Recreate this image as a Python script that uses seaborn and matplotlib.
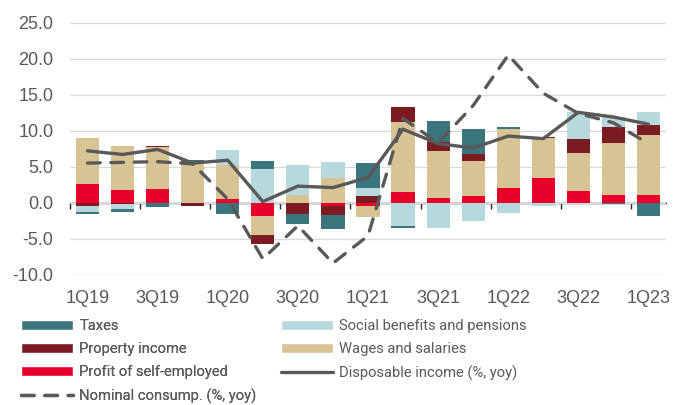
import numpy as np
import pandas as pd
import matplotlib
matplotlib.use("Agg")
import matplotlib.pyplot as plt
from matplotlib.patches import Patch
from matplotlib.lines import Line2D
import seaborn as sns

# ---- data ----
quarters = ['1Q19', '2Q19', '3Q19', '4Q19', '1Q20', '2Q20', '3Q20', '4Q20', '1Q21',
            '2Q21', '3Q21', '4Q21', '1Q22', '2Q22', '3Q22', '4Q22', '1Q23']
profit = [2.6, 1.7, 1.9, 0.0, 0.5, -1.85, 0.0, -0.45, -0.4, 1.55, 0.7, 0.95, 2.1, 3.45, 1.65, 1.1, 1.1]
wages = [6.4, 6.2, 5.8, 5.6, 4.8, -2.65, 1.05, 3.5, -1.6, 9.6, 6.5, 4.85, 8.1, 5.55, 5.3, 7.15, 8.3]
property_inc = [-0.4, -0.15, 0.2, -0.45, 0.0, -1.25, -1.55, -1.25, 1.0, 2.15, 1.25, 0.9, 0.0, 0.15, 1.85, 2.3, 1.4]
social = [-0.95, -0.75, 0.0, 0.0, 2.0, 4.7, 4.15, 2.2, 1.0, -3.25, -3.45, -2.55, -1.45, -0.4, 3.75, 1.3, 1.75]
taxes = [-0.25, -0.45, -0.55, 0.3, -1.5, 1.15, -1.4, -1.95, 3.45, -0.2, 2.9, 3.5, 0.35, 0.0, 0.0, -0.2, -1.8]
disposable = [7.2, 6.7, 7.4, 5.5, 5.9, 0.15, 2.3, 2.1, 3.5, 10.2, 8.2, 7.6, 9.25, 8.9, 12.55, 11.9, 10.9]
consumption = [5.5, 5.6, 5.7, 5.4, 0.5, -7.8, -3.2, -8.4, -4.6, 11.7, 8.3, 13.5, 20.5, 15.2, 12.4, 11.1, 8.2]
y_ticks = [-10, -5, 0, 5, 10, 15, 20, 25]
x_label_every = 2

components = [
    ("Profit of self-employed", profit, "#E8002A"),
    ("Wages and salaries", wages, "#D8C394"),
    ("Property income", property_inc, "#7B1C22"),
    ("Social benefits and pensions", social, "#B7D8DC"),
    ("Taxes", taxes, "#3B767E"),
]
line_color = "#595959"
text_color = "#595959"

sns.set_theme(style="white")
plt.rcParams['font.family'] = ['Liberation Sans', 'DejaVu Sans']

fig = plt.figure(figsize=(6.76, 4.05), dpi=100)
ax = fig.add_axes([70 / 676, 1 - 274.7 / 405, 596 / 676, 252 / 405])

pos_cum = np.zeros(len(quarters))
neg_cum = np.zeros(len(quarters))
for name, vals, col in components:
    v = np.array(vals, dtype=float)
    bottoms = np.where(v >= 0, pos_cum, neg_cum)
    df = pd.DataFrame({"q": quarters, "v": v})
    sns.barplot(data=df, x="q", y="v", order=quarters, bottom=bottoms, color=col,
                saturation=1, errorbar=None, width=0.66, linewidth=0, ax=ax)
    pos_cum = pos_cum + np.where(v >= 0, v, 0)
    neg_cum = neg_cum + np.where(v < 0, v, 0)

xs = np.arange(len(quarters))
sns.lineplot(x=xs, y=disposable, color=line_color, linewidth=2.4, ax=ax,
             solid_capstyle="round", solid_joinstyle="miter")
sns.lineplot(x=xs, y=consumption, color=line_color, linewidth=2.4, ax=ax)
dl = ax.lines[-1]
dl.set_dashes([3.8, 3.2])
dl.set_dash_capstyle("round")

ax.set_xlim(-0.5, len(quarters) - 0.5)
ax.set_ylim(-10, 25)
ax.set_yticks(y_ticks)
ax.set_yticklabels([f"{t:.1f}" for t in y_ticks])
ax.set_xticks(xs[::x_label_every])
ax.set_xticklabels(quarters[::x_label_every])
ax.set_xlabel("")
ax.set_ylabel("")
ax.tick_params(axis="y", length=0, pad=12, labelsize=13, labelcolor=text_color)
ax.tick_params(axis="x", length=0, pad=11, labelsize=13, labelcolor=text_color)
ax.yaxis.grid(True, color="#D9D9D9", linewidth=1.0)
ax.xaxis.grid(False)
ax.set_axisbelow(True)
for s in ax.spines.values():
    s.set_visible(False)

# zero axis line with tick marks between categories
loc0 = (0 - (-10)) / 35
sec = ax.secondary_xaxis(loc0)
sec.set_xticks(np.arange(-0.5, len(quarters) - 1, x_label_every))
sec.set_xticklabels([])
sec.tick_params(axis="x", direction="out", length=4, width=1.0, color="#262626")
sec.spines["bottom"].set_color("#262626")
sec.spines["bottom"].set_linewidth(1.0)
for k in ["top", "left", "right"]:
    if k in sec.spines:
        sec.spines[k].set_visible(False)

# legend (two columns)
lookup = {n: c for n, _, c in components}
col1 = [
    Patch(facecolor=lookup["Taxes"], label="Taxes"),
    Patch(facecolor=lookup["Property income"], label="Property income"),
    Patch(facecolor=lookup["Profit of self-employed"], label="Profit of self-employed"),
    Line2D([], [], color=line_color, linewidth=2.4, dashes=[3.8, 3.2],
           dash_capstyle="round", label="Nominal consump. (%, yoy)"),
]
col2 = [
    Patch(facecolor=lookup["Social benefits and pensions"], label="Social benefits and pensions"),
    Patch(facecolor=lookup["Wages and salaries"], label="Wages and salaries"),
    Line2D([], [], color=line_color, linewidth=2.4, label="Disposable income (%, yoy)"),
]
fs = 10.6
leg_kw = dict(loc="upper left", frameon=False, labelcolor=text_color, handlelength=52 / (fs * 100 / 72),
              handletextpad=0.42, labelspacing=0.62, borderpad=0, borderaxespad=0,
              handleheight=0.68, prop={"family": "Roboto", "size": fs})
leg1 = fig.legend(handles=col1, bbox_to_anchor=(21 / 676, 1 - 319 / 405), **leg_kw)
fig.add_artist(leg1)
fig.legend(handles=col2, bbox_to_anchor=(281 / 676, 1 - 319 / 405), **leg_kw)

fig.savefig("out.png", dpi=100)
